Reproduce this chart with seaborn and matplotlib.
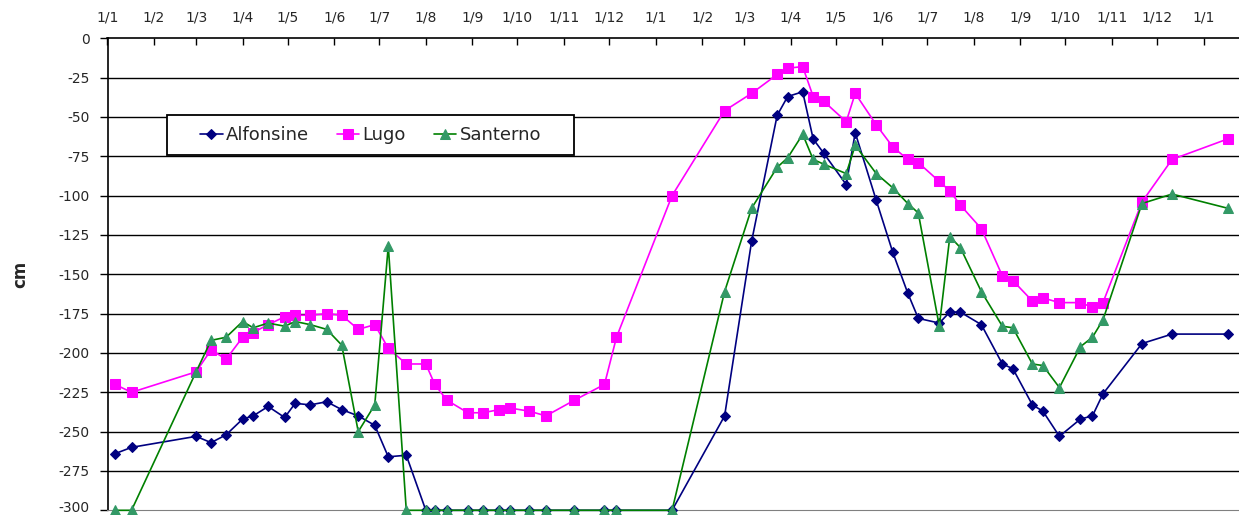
import pandas as pd
import numpy as np
import seaborn as sns
import matplotlib.pyplot as plt
import matplotlib.dates as mdates
import matplotlib.transforms as mtransforms
from matplotlib.patches import Rectangle
from matplotlib.ticker import FuncFormatter, MultipleLocator

# survey dates (shared by the three wells)
dates = ['2005-01-06', '2005-01-17', '2005-03-01', '2005-03-11', '2005-03-21',
         '2005-04-01', '2005-04-08', '2005-04-18', '2005-04-29', '2005-05-06',
         '2005-05-16', '2005-05-27', '2005-06-06', '2005-06-17', '2005-06-28',
         '2005-07-07', '2005-07-19', '2005-08-01', '2005-08-07', '2005-08-15',
         '2005-08-29', '2005-09-08', '2005-09-19', '2005-09-26', '2005-10-09',
         '2005-10-20', '2005-11-08', '2005-11-28', '2005-12-06', '2006-01-12',
         '2006-02-16', '2006-03-06', '2006-03-23', '2006-03-30', '2006-04-09',
         '2006-04-16', '2006-04-23', '2006-05-08', '2006-05-14', '2006-05-28',
         '2006-06-08', '2006-06-18', '2006-06-25', '2006-07-09', '2006-07-16',
         '2006-07-23', '2006-08-06', '2006-08-20', '2006-08-27', '2006-09-09',
         '2006-09-16', '2006-09-27', '2006-10-11', '2006-10-19', '2006-10-26',
         '2006-11-21', '2006-12-11', '2007-01-17']

alfonsine = [-264, -260, -253, -257, -252, -242, -240, -234, -241, -232,
             -233, -231, -236, -240, -246, -266, -265, -300, -300, -300,
             -300, -300, -300, -300, -300, -300, -300, -300, -300, -300,
             -240, -129, -49, -37, -34, -64, -73, -93, -60, -103,
             -136, -162, -178, -181, -174, -174, -182, -207, -210, -233,
             -237, -253, -242, -240, -226, -194, -188, -188]

lugo = [-220, -225, -212, -198, -204, -190, -187, -182, -177, -176,
        -176, -175, -176, -185, -182, -197, -207, -207, -220, -230,
        -238, -238, -236, -235, -237, -240, -230, -220, -190, -100,
        -46, -35, -23, -19, -18, -37, -40, -53, -35, -55,
        -69, -77, -79, -91, -97, -106, -121, -151, -154, -167,
        -165, -168, -168, -171, -168, -104, -77, -64]

santerno = [-300, -300, -212, -192, -190, -180, -184, -181, -183, -180,
            -182, -185, -195, -250, -233, -132, -300, -300, -300, -300,
            -300, -300, -300, -300, -300, -300, -300, -300, -300, -300,
            -161, -108, -82, -76, -61, -77, -80, -86, -68, -86,
            -95, -105, -111, -183, -126, -133, -161, -183, -184, -207,
            -208, -222, -196, -190, -179, -105, -99, -108]

df = pd.DataFrame({'date': pd.to_datetime(dates),
                   'Alfonsine': alfonsine, 'Lugo': lugo, 'Santerno': santerno})

sns.set_style("white")
plt.rcParams['font.family'] = ['DejaVu Sans']
plt.rcParams['axes.unicode_minus'] = False

fig = plt.figure(figsize=(12.39, 5.15), dpi=100)
ax = fig.add_axes([107.5 / 1239, 4.7 / 515, 1131.5 / 1239, 472 / 515])

# horizontal grid
for v in range(-275, 0, 25):
    ax.axhline(v, color='black', lw=1.0, zorder=1)

sns.lineplot(data=df, x='date', y='Alfonsine', ax=ax, color='#000080', lw=1.2,
             marker='D', markersize=5, markeredgecolor='#000080', label='Alfonsine',
             estimator=None, sort=False, zorder=3)
sns.lineplot(data=df, x='date', y='Lugo', ax=ax, color='#FF00FF', lw=1.2,
             marker='s', markersize=7, markeredgecolor='#FF00FF', label='Lugo',
             estimator=None, sort=False, zorder=4)
sns.lineplot(data=df, x='date', y='Santerno', ax=ax, color='#008000', lw=1.2,
             marker='^', markersize=7.5, markerfacecolor='#339966',
             markeredgecolor='#339966', label='Santerno',
             estimator=None, sort=False, zorder=5)

start = pd.Timestamp('2005-01-01')
ax.set_xlim(start, start + pd.Timedelta(days=753.6))
ax.set_ylim(-300, 0)
for a in ax.lines:
    a.set_clip_on(False)

ax.yaxis.set_major_locator(MultipleLocator(25))
ax.xaxis.set_major_locator(mdates.MonthLocator())
ax.xaxis.set_major_formatter(FuncFormatter(
    lambda x, pos: f"{mdates.num2date(x).day}/{mdates.num2date(x).month}"))
ax.xaxis.tick_top()
ax.tick_params(axis='x', direction='in', length=5, width=1, color='black',
               labelsize=10, pad=10)
ax.tick_params(axis='y', direction='out', length=6, width=1, color='black',
               labelsize=10, pad=7, left=True)
ax.set_xlabel('')
ax.set_ylabel('cm', fontsize=12, fontweight='bold')
ax.yaxis.set_label_coords(-0.069, 0.5)

# lowest label sits on the figure edge: lift it a little
fig.canvas.draw()
for lab in ax.get_yticklabels():
    if lab.get_text() == '-300':
        lab.set_transform(lab.get_transform() +
                          mtransforms.ScaledTranslation(0, 4 / 100, fig.dpi_scale_trans))

ax.spines['top'].set_color('black')
ax.spines['left'].set_color('black')
ax.spines['bottom'].set_color('#808080')
ax.spines['right'].set_visible(False)
for s in ['top', 'left']:
    ax.spines[s].set_linewidth(1.2)

# legend box
box = Rectangle((0.0526, 0.7519), 0.3597, 0.0847, transform=ax.transAxes,
                facecolor='white', edgecolor='black', lw=1.3, zorder=6, clip_on=False)
ax.add_patch(box)
leg = ax.legend(loc='center', bbox_to_anchor=(0.0526 + 0.3597 / 2, 0.7519 + 0.0847 / 2),
                ncol=3, fontsize=13, frameon=False, handlelength=1.25,
                handletextpad=0.17, columnspacing=1.55, borderpad=0, borderaxespad=0)
leg.set_zorder(7)

fig.savefig('out.png', dpi=100)
